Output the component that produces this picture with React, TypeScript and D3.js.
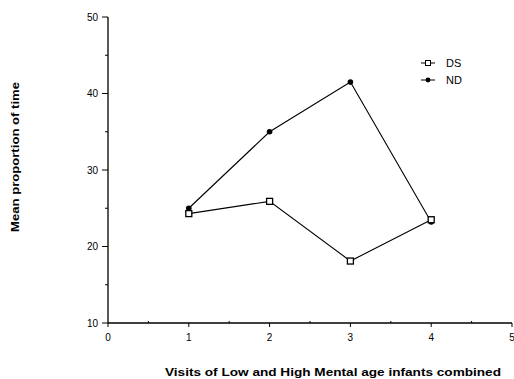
import React from 'react';
import * as d3 from 'd3';

const visits = [1, 2, 3, 4];
const dsValues = [24.3, 25.9, 18.1, 23.5];
const ndValues = [25.0, 35.0, 41.5, 23.2];
const xTicks = [0, 1, 2, 3, 4, 5];
const yTicks = [10, 20, 30, 40, 50];
const yMinor = [15, 25, 35, 45];
const xMinor = [0.5, 1.5, 2.5, 3.5, 4.5];

const W = 514;
const H = 379;

export default function App() {
  const x = d3.scaleLinear().domain([0, 5]).range([108, 512]);
  const y = d3.scaleLinear().domain([10, 50]).range([323, 17]);

  const line = d3
    .line<number>()
    .x((_, i) => x(visits[i]))
    .y(d => y(d));

  const font = 'Arial, "Liberation Sans", sans-serif';

  return (
    <svg
      width={W}
      height={H}
      style={{ position: 'absolute', left: 0, top: 0, background: '#fff' }}
    >
      {/* axes */}
      <line x1={x(0)} x2={x(0)} y1={y(50)} y2={y(10)} stroke="#000" strokeWidth={1.3} />
      <line x1={x(0)} x2={x(5)} y1={y(10)} y2={y(10)} stroke="#000" strokeWidth={1.3} />

      {yTicks.map(t => (
        <g key={'y' + t}>
          <line x1={x(0) - 6} x2={x(0)} y1={y(t)} y2={y(t)} stroke="#000" />
          <text
            x={x(0) - 10}
            y={y(t)}
            dy="0.35em"
            textAnchor="end"
            fontFamily={font}
            fontSize={10}
          >
            {t}
          </text>
        </g>
      ))}
      {yMinor.map(t => (
        <line key={'ym' + t} x1={x(0) - 3} x2={x(0)} y1={y(t)} y2={y(t)} stroke="#000" />
      ))}

      {xTicks.map(t => (
        <g key={'x' + t}>
          <line x1={x(t)} x2={x(t)} y1={y(10)} y2={y(10) + 4} stroke="#000" />
          <text
            x={x(t)}
            y={y(10) + 18}
            textAnchor="middle"
            fontFamily={font}
            fontSize={10}
          >
            {t}
          </text>
        </g>
      ))}
      {xMinor.map(t => (
        <line key={'xm' + t} x1={x(t)} x2={x(t)} y1={y(10) - 2} y2={y(10)} stroke="#000" />
      ))}

      {/* series */}
      <path d={line(ndValues) ?? ''} fill="none" stroke="#000" strokeWidth={1.1} />
      <path d={line(dsValues) ?? ''} fill="none" stroke="#000" strokeWidth={1.1} />
      {ndValues.map((v, i) => (
        <circle key={'nd' + i} cx={x(visits[i])} cy={y(v)} r={2.8} fill="#000" />
      ))}
      {dsValues.map((v, i) => (
        <rect
          key={'ds' + i}
          x={x(visits[i]) - 3}
          y={y(v) - 3}
          width={6}
          height={6}
          fill="#fff"
          stroke="#000"
          strokeWidth={1.3}
        />
      ))}

      {/* legend */}
      <g fontFamily={font} fontSize={11}>
        <line x1={421} x2={435} y1={63} y2={63} stroke="#000" />
        <rect x={425.5} y={60.5} width={5} height={5} fill="#fff" stroke="#000" />
        <text x={446} y={63} dy="0.35em">DS</text>
        <line x1={421} x2={435} y1={80} y2={80} stroke="#000" />
        <circle cx={428} cy={80} r={2.4} fill="#000" />
        <text x={446} y={80} dy="0.35em">ND</text>
      </g>

      {/* axis titles */}
      <text
        transform={`translate(19,157) rotate(-90)`}
        textAnchor="middle"
        fontFamily={font}
        fontSize={11.5}
        fontWeight="bold"
        textLength={150}
        lengthAdjust="spacingAndGlyphs"
      >
        Mean proportion of time
      </text>
      <text
        x={333}
        y={376}
        textAnchor="middle"
        fontFamily={font}
        fontSize={11.5}
        fontWeight="bold"
        textLength={336}
        lengthAdjust="spacingAndGlyphs"
      >
        Visits of Low and High Mental age infants combined
      </text>
    </svg>
  );
}
